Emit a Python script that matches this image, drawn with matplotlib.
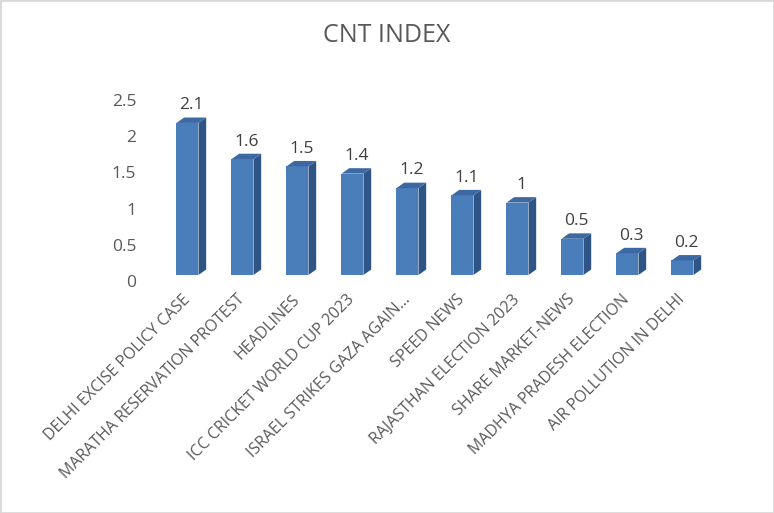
import matplotlib.pyplot as plt
from matplotlib.patches import Polygon, Rectangle
from matplotlib.transforms import ScaledTranslation

plt.rcParams['font.family'] = ['Open Sans', 'DejaVu Sans']

categories = ['DELHI EXCISE POLICY CASE', 'MARATHA RESERVATION PROTEST', 'HEADLINES',
              'ICC CRICKET WORLD CUP 2023', 'ISRAEL STRIKES GAZA AGAIN...', 'SPEED NEWS',
              'RAJASTHAN ELECTION 2023', 'SHARE MARKET-NEWS', 'MADHYA PRADESH ELECTION',
              'AIR POLLUTION IN DELHI']
values = [2.1, 1.6, 1.5, 1.4, 1.2, 1.1, 1, 0.5, 0.3, 0.2]
value_labels = ['2.1', '1.6', '1.5', '1.4', '1.2', '1.1', '1', '0.5', '0.3', '0.2']
y_ticks = [0, 0.5, 1, 1.5, 2, 2.5]
y_tick_labels = ['0', '0.5', '1', '1.5', '2', '2.5']

front = '#4a7ebb'
side = '#2f5486'
top = '#3d69a3'
bar_w = 0.4
dx = 0.14   # depth of the 3d effect, in category units
dy = 0.075  # depth, in value units

fig = plt.figure(figsize=(7.74, 5.13), dpi=100)
ax = fig.add_axes([0.2067, 0.464, 0.7106, 0.3528])

x = list(range(len(categories)))
ax.bar(x, values, width=bar_w, color=front, edgecolor='none', zorder=2)
for i, v in zip(x, values):
    x0, x1 = i - bar_w / 2, i + bar_w / 2
    ax.add_patch(Polygon([(x1, 0), (x1 + dx, dy), (x1 + dx, v + dy), (x1, v)],
                         closed=True, facecolor=side, edgecolor='none', zorder=2))
    ax.add_patch(Polygon([(x0, v), (x0 + dx, v + dy), (x1 + dx, v + dy), (x1, v)],
                         closed=True, facecolor=top, edgecolor='none', zorder=2))

for i, v, lab in zip(x, values, value_labels):
    ax.annotate(lab, (i + dx / 2, v + dy), xytext=(0, 3), textcoords='offset points',
                ha='center', va='bottom', fontsize=12.5, color='#404040')

ax.set_xlim(-0.5, len(categories) - 0.5)
ax.set_ylim(0, 2.5)
ax.set_yticks(y_ticks)
ax.set_yticklabels(y_tick_labels, fontsize=12.5, color='#595959')
ax.set_xticks(x)
ax.set_xticklabels(categories, rotation=45, ha='right', rotation_mode='anchor',
                   va='center', fontsize=11.5, color='#595959')
ax.tick_params(axis='y', length=0, pad=17)
ax.tick_params(axis='x', length=0, pad=16)
shift = ScaledTranslation(0, -6 / 100, fig.dpi_scale_trans)
for t in ax.get_yticklabels():
    t.set_transform(t.get_transform() + shift)
for s in ax.spines.values():
    s.set_visible(False)

fig.text(0.5, 1 - 36 / 513, 'CNT INDEX', ha='center', va='center',
         fontsize=18, color='#595959')
fig.patches.append(Rectangle((0, 0), 1, 1, transform=fig.transFigure, fill=False,
                             edgecolor='#d9d9d9', linewidth=2))

fig.savefig('out.png', dpi=100)
